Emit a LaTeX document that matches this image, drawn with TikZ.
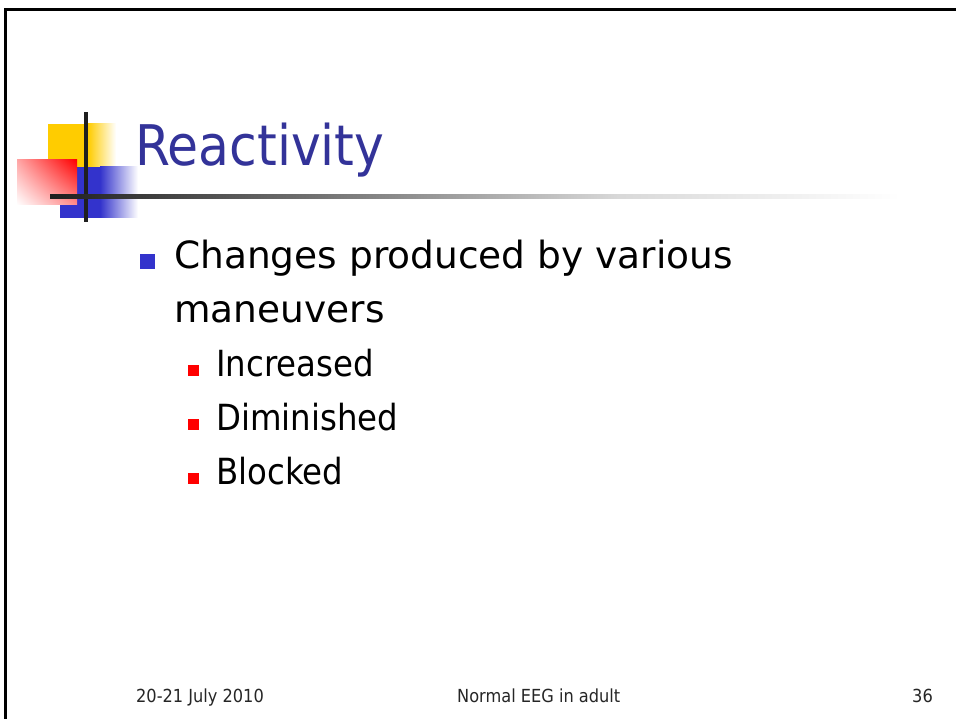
\documentclass[tikz,border=0pt]{standalone}
\usepackage{fontspec}
\usetikzlibrary{shadings}
\setmainfont{DejaVu Sans Condensed}
\newfontfamily\bodyfont{DejaVu Sans}
\definecolor{titleblue}{HTML}{333399}
\definecolor{bulletblue}{HTML}{3333CC}
\definecolor{decoyellow}{HTML}{FFCC00}
\definecolor{decoblue}{HTML}{3333CC}
\tikzset{
  titletext/.style={anchor=base west, inner sep=0pt, text=titleblue, font=\fontsize{56}{66}\selectfont},
  bodytext/.style={anchor=base west, inner sep=0pt, text=black, font=\bodyfont\fontsize{37.5}{46}\selectfont},
  subtext/.style={anchor=base west, inner sep=0pt, text=black, font=\fontsize{36}{44}\selectfont},
  foottext/.style={anchor=base west, inner sep=0pt, text=black!85, font=\fontsize{18}{22}\selectfont},
}
\begin{document}
\begin{tikzpicture}[x=1pt,y=-1pt]
\useasboundingbox (0,0) rectangle (956,719);
\fill[white] (0,0) rectangle (956,719);
% frame
\fill[black] (4,8) rectangle (956,11);
\fill[black] (4,8) rectangle (7,719);
% decoration: yellow square
\fill[decoyellow] (48,124) rectangle (88,170);
\shade[left color=decoyellow, right color=white] (88,124) rectangle (116,170);
% blue square
\fill[decoblue] (60,167) rectangle (100,218);
\shade[left color=decoblue, right color=white] (100,167) rectangle (138,218);
% red square
\shade[upper right=red, lower left=white, upper left=red!35, lower right=red!45] (17,160) rectangle (77,205);
% lines
\fill[black!88] (84,112) rectangle (88,222);
\shade[left color=black!88, right color=black!45] (50,195) rectangle (400,199);
\shade[left color=black!45, right color=black!15] (400,195) rectangle (620,199);
\shade[left color=black!15, right color=white] (620,195) rectangle (900,199);
% title
\node[titletext] (title) at (135,166) {Reactivity};
% bullets
\fill[bulletblue] (140,254) rectangle (155,269);
\node[bodytext] (l1) at (174,269) {Changes produced by various};
\node[bodytext] (l2) at (174,323) {maneuvers};
\fill[red] (188,365) rectangle (199,376);
\node[subtext] (s1) at (216,377) {Increased};
\fill[red] (188,419) rectangle (199,430);
\node[subtext] (s2) at (216,430) {Diminished};
\fill[red] (188,473) rectangle (199,484);
\node[subtext] (s3) at (216,484) {Blocked};
% footer
\node[foottext] (f1) at (136,702) {20-21 July 2010};
\node[foottext] (f2) at (457,702) {Normal EEG in adult};
\node[foottext,anchor=base east] (f3) at (933,702) {36};
\end{tikzpicture}
\end{document}
